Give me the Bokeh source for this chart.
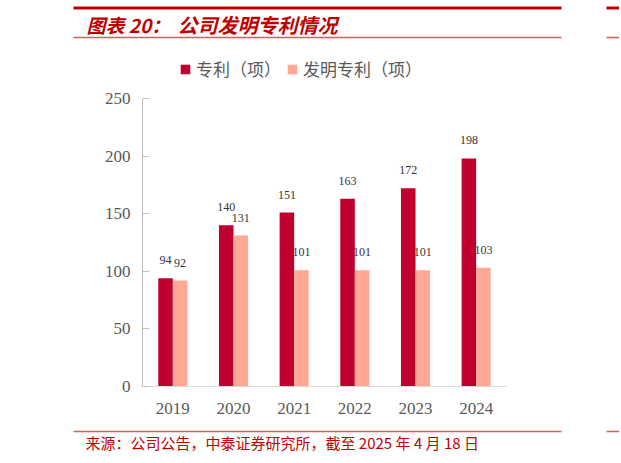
from bokeh.plotting import figure
from bokeh.models import Range1d, FactorRange, ColumnDataSource, Legend, LegendItem, FixedTicker
from bokeh.layouts import column
from bokeh.transform import dodge
from bokeh.core.properties import value
from bokeh.embed import file_html
from bokeh.resources import INLINE

# ---- data ----
years = ["2019", "2020", "2021", "2022", "2023", "2024"]
patents = [94, 140, 151, 163, 172, 198]
invention_patents = [92, 131, 101, 101, 101, 103]
series_names = ["专利（项）", "发明专利（项）"]
y_ticks = [0, 50, 100, 150, 200, 250]
title_prefix = "图表 20："
title_main = "公司发明专利情况"
source_note = "来源：公司公告，中泰证券研究所，截至 2025 年 4 月 18 日"

# ---- styles ----
RED = "#C0002F"
SALMON = "#FFA894"
DARKRED = "#C00000"
LIGHTRED = "#E05A5A"
GRAY = "#595959"
M = 1          # observed page offset of the canvas
W = 619


def blank(h, ytop, ybot):
    f = figure(width=W, height=h, x_range=Range1d(M, M + W), y_range=Range1d(ybot, ytop),
               toolbar_location=None, output_backend="svg", min_border=0,
               x_axis_location=None, y_axis_location=None, outline_line_color=None)
    f.frame_align = False
    f.title.visible = False
    f.grid.visible = False
    return f


# ---- header (page coords) ----
header = blank(50 - M, M, 50)
header.segment(x0=[74, 607], y0=[8.5, 8.5], x1=[562, 621], y1=[8.5, 8.5],
               line_width=3, line_color=DARKRED)
header.segment(x0=[74, 607], y0=[38, 38], x1=[562, 621], y1=[38, 38],
               line_width=1.5, line_color=LIGHTRED)
header.text(x=[87], y=[24.5], text=[title_prefix], text_font=value("Noto Sans CJK SC"),
            text_font_style="bold italic", text_font_size="19px", text_color=DARKRED,
            text_align="left", text_baseline="middle")
header.text(x=[178], y=[24.5], text=[title_main], text_font=value("Noto Sans CJK SC"),
            text_font_style="bold italic", text_font_size="20px", text_color=DARKRED,
            text_align="left", text_baseline="middle")

# ---- chart ----
src = ColumnDataSource(dict(
    year=years, patents=patents, invention=invention_patents,
    patents_lbl=[str(v) for v in patents],
    invention_lbl=[str(v) for v in invention_patents],
))

# frame: page x 143..507, page y 50..387 ; 0..250 spans page 387..99
y_top = 250 + (99 - 50) * 250 / 288
p = figure(width=W, height=375, x_range=FactorRange(*years), y_range=Range1d(0, y_top),
           toolbar_location=None, output_backend="svg",
           min_border_left=143 - M, min_border_right=(M + W) - 507, min_border_top=0,
           min_border_bottom=38, outline_line_color=None)
p.frame_align = False
p.title.visible = False
p.grid.visible = False

r1 = p.vbar(x=dodge("year", -0.12, range=p.x_range), top="patents", width=0.24,
            source=src, fill_color=RED, line_color=None)
r2 = p.vbar(x=dodge("year", 0.12, range=p.x_range), top="invention", width=0.24,
            source=src, fill_color=SALMON, line_color=None)

for col, lbl, off in (("patents", "patents_lbl", -0.12), ("invention", "invention_lbl", 0.12)):
    p.text(x=dodge("year", off, range=p.x_range), y=col, text=lbl, source=src,
           y_offset=-18, text_align="center", text_baseline="middle",
           text_font=value("Liberation Serif"), text_font_size="12px", text_color="#333333")

p.yaxis.ticker = FixedTicker(ticks=y_ticks)
p.yaxis.bounds = (0, 250)
p.yaxis.axis_line_color = "#BFBFBF"
p.yaxis.major_tick_line_color = "#BFBFBF"
p.yaxis.major_tick_in = 7
p.yaxis.major_tick_out = 0
p.yaxis.minor_tick_line_color = None
p.yaxis.major_label_standoff = 12
p.yaxis.major_label_text_font = "Liberation Serif"
p.yaxis.major_label_text_font_size = "17px"
p.yaxis.major_label_text_color = GRAY

p.xaxis.axis_line_color = "#D9D9D9"
p.xaxis.major_tick_line_color = None
p.xaxis.major_tick_in = 0
p.xaxis.major_tick_out = 0
p.xaxis.major_label_standoff = 16
p.xaxis.major_label_text_font = "Liberation Serif"
p.xaxis.major_label_text_font_size = "17px"
p.xaxis.major_label_text_color = GRAY

legend = Legend(items=[LegendItem(label=series_names[0], renderers=[r1]),
                       LegendItem(label=series_names[1], renderers=[r2])],
                location=(180 - 143, 387 - 82), orientation="horizontal",
                glyph_width=12, glyph_height=12, label_standoff=5, spacing=5,
                padding=0, margin=0, border_line_color=None, background_fill_alpha=0,
                label_text_font="Noto Sans CJK SC", label_text_font_size="17px",
                label_text_color=GRAY, label_height=20)
p.add_layout(legend)

# ---- footer (page coords) ----
footer = blank(462 - 425, 425, 462)
footer.segment(x0=[74, 607], y0=[432, 432], x1=[562, 621], y1=[432, 432],
               line_width=1.5, line_color=LIGHTRED)
footer.text(x=[86], y=[443], text=[source_note], text_font=value("Noto Sans CJK SC"),
            text_font_size="15px", text_color=DARKRED,
            text_align="left", text_baseline="middle")

layout = column(header, p, footer, spacing=0)
open("out.html", "w").write(file_html(layout, INLINE))
